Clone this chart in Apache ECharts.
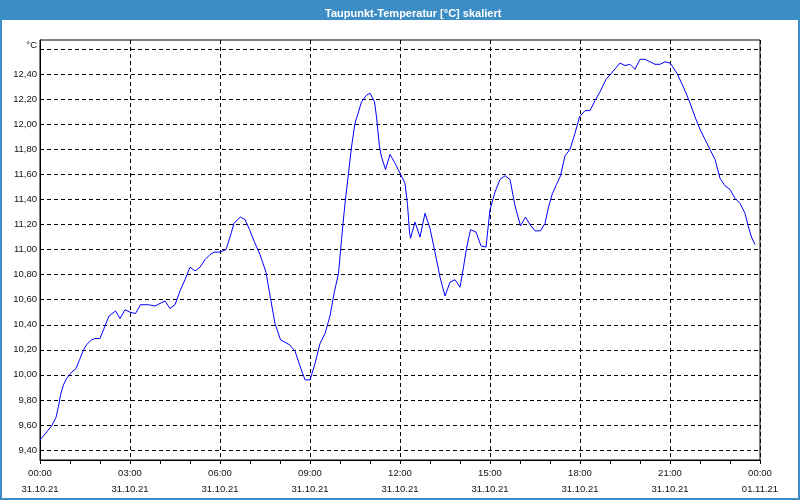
<!DOCTYPE html>
<html>
<head>
<meta charset="utf-8">
<script src="https://cdn.jsdelivr.net/npm/echarts@6/dist/echarts.min.js"></script>
<style>html,body{margin:0;padding:0;background:#fff;}#c{width:800px;height:500px;}</style>
</head>
<body>
<div id="c"></div>
<script>
// Time in minutes since 31.10.21 00:00
const minutes = [0,23,32,37,41,47,53,63,72,79,87,93,103,110,120,128,138,151,160,170,180,191,201,217,230,250,260,270,280,290,300,310,320,330,340,348,360,372,380,388,395,401,410,419,429,440,452,461,470,481,490,499,510,520,530,540,550,560,570,580,588,597,603,610,617,623,630,637,643,652,660,669,673,679,683,691,700,710,720,730,735,739,741,750,760,770,780,790,800,810,820,830,840,847,853,861,872,882,892,900,910,920,930,940,950,961,971,980,990,1001,1010,1017,1025,1033,1041,1050,1060,1070,1079,1090,1100,1110,1120,1132,1143,1160,1170,1180,1190,1200,1210,1220,1230,1240,1250,1260,1267,1275,1283,1291,1300,1310,1320,1330,1340,1350,1360,1370,1380,1390,1400,1410,1417,1423,1430];
const dewpoint = [9.48,9.59,9.66,9.75,9.84,9.92,9.97,10.02,10.05,10.12,10.20,10.24,10.28,10.29,10.29,10.37,10.47,10.51,10.45,10.52,10.50,10.49,10.56,10.56,10.55,10.59,10.53,10.56,10.67,10.76,10.86,10.83,10.86,10.92,10.96,10.98,10.98,11.00,11.10,11.21,11.24,11.26,11.24,11.16,11.06,10.96,10.82,10.61,10.41,10.28,10.26,10.24,10.19,10.07,9.96,9.96,10.09,10.25,10.33,10.47,10.65,10.81,11.08,11.37,11.61,11.82,12.01,12.10,12.18,12.23,12.25,12.18,12.06,11.82,11.74,11.64,11.76,11.69,11.61,11.53,11.36,11.14,11.09,11.22,11.10,11.29,11.17,10.98,10.78,10.63,10.74,10.76,10.70,10.86,11.01,11.16,11.14,11.03,11.02,11.32,11.46,11.56,11.59,11.56,11.35,11.19,11.26,11.20,11.15,11.15,11.21,11.34,11.45,11.52,11.59,11.75,11.80,11.93,12.06,12.11,12.11,12.19,12.26,12.36,12.41,12.49,12.47,12.48,12.44,12.52,12.52,12.50,12.48,12.48,12.50,12.49,12.45,12.40,12.33,12.26,12.17,12.06,11.96,11.88,11.80,11.72,11.57,11.51,11.48,11.41,11.37,11.29,11.18,11.10,11.04];
const yLabelValues = [9.4,9.6,9.8,10.0,10.2,10.4,10.6,10.8,11.0,11.2,11.4,11.6,11.8,12.0,12.2,12.4];
const yGridValues = [9.4,9.6,9.8,10.0,10.2,10.4,10.6,10.8,11.0,11.2,11.4,11.6,11.8,12.0,12.2,12.4,12.6];
const xTimeLabels = ['00:00','03:00','06:00','09:00','12:00','15:00','18:00','21:00','00:00'];
const xDateLabels = ['31.10.21','31.10.21','31.10.21','31.10.21','31.10.21','31.10.21','31.10.21','31.10.21','01.11.21'];
const titleText = 'Taupunkt-Temperatur [°C] skaliert';

const FONT = '"Liberation Sans", Arial, sans-serif';
const chart = echarts.init(document.getElementById('c'), null, {renderer:'canvas'});
chart.setOption({
  animation: false,
  backgroundColor: '#ffffff',
  title: {
    text: titleText, left: 320, top: 3,
    textStyle: {color:'#ffffff', fontSize: 11, fontWeight: 'bold', fontFamily: FONT}
  },
  graphic: [
    {type:'rect', z:-1, silent:true, shape:{x:0,y:0,width:800,height:20}, style:{fill:'#3C8DC5'}},
    {type:'rect', z:-1, silent:true, shape:{x:1,y:1,width:798,height:498}, style:{fill:null, stroke:'#3C8DC5', lineWidth:2}}
  ],
  grid: {left:40, right:40, top:40, bottom:40, show:true, borderColor:'#000', borderWidth:1, backgroundColor:'transparent'},
  xAxis: {
    type:'value', min:0, max:1440, interval:180,
    axisLine:{show:true, lineStyle:{color:'#000', width:1}},
    axisTick:{show:true, length:4, lineStyle:{color:'#000'}},
    minorTick:{show:true, splitNumber:3, length:4, lineStyle:{color:'#000'}},
    splitLine:{show:true, lineStyle:{color:'#000', type:[4,3], width:1}},
    axisLabel:{
      margin:5, fontSize:9.5, color:'#111', fontFamily:FONT, lineHeight:16,
      formatter: function(v){ const i = Math.round(v/180); return xTimeLabels[i] + '\n' + xDateLabels[i]; }
    }
  },
  yAxis: {
    type:'value', min:9.32, max:12.674,
    name:'°C', nameLocation:'end', nameGap:-5,
    nameTextStyle:{align:'right', verticalAlign:'middle', padding:[0,3,0,0], fontSize:9.5, color:'#111', fontFamily:FONT},
    axisLine:{show:true, lineStyle:{color:'#000'}},
    axisTick:{show:false, customValues: yGridValues},
    splitLine:{show:true, lineStyle:{color:'#000', type:[4,3], width:1}},
    axisLabel:{
      customValues: yLabelValues, margin:3, fontSize:9.5, color:'#111', fontFamily:FONT,
      formatter: function(v){ return v.toFixed(2).replace('.', ','); }
    }
  },
  series: [{
    type:'line', showSymbol:false, symbol:'none',
    data: minutes.map((m,i)=>[m, dewpoint[i]]),
    lineStyle:{color:'#0000FF', width:1},
    itemStyle:{color:'#0000FF'}
  }]
});
</script>
</body>
</html>
